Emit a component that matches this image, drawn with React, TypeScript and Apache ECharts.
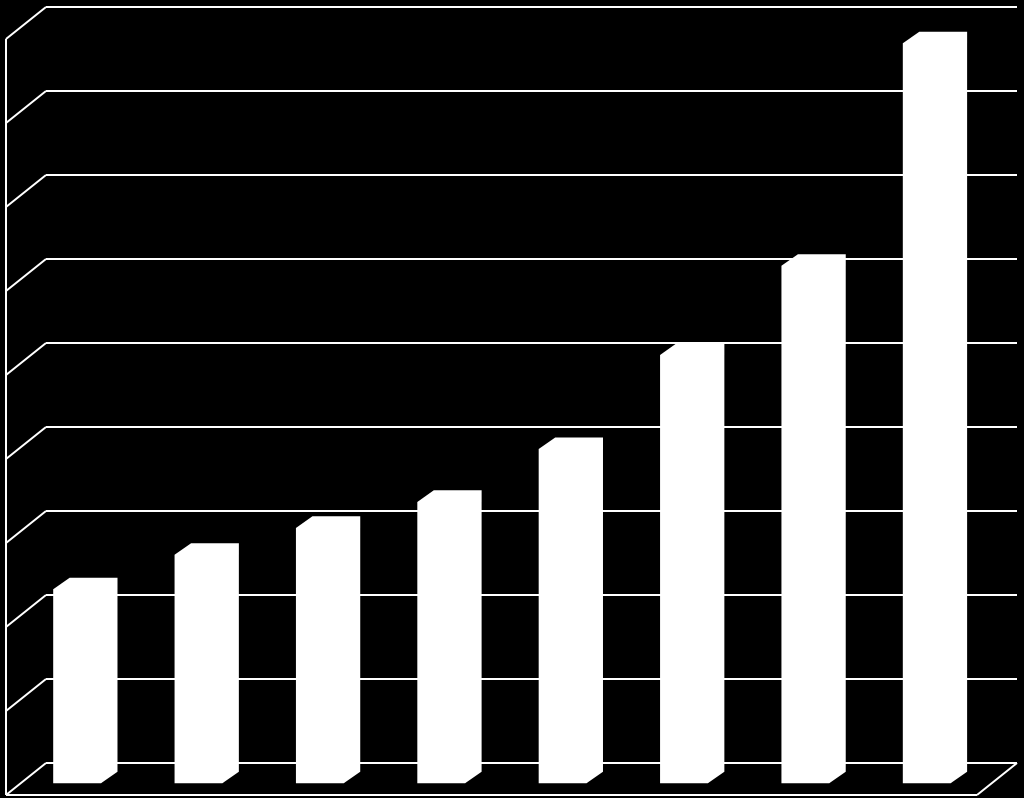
import React, { useEffect, useRef } from "react";
import * as echarts from "echarts";

const categories = ["1", "2", "3", "4", "5", "6", "7", "8"];
const values = [2.31, 2.72, 3.04, 3.35, 3.98, 5.1, 6.16, 8.81];
const yTicks = [0, 1, 2, 3, 4, 5, 6, 7, 8, 9];

export default function App() {
  const ref = useRef<HTMLDivElement>(null);
  useEffect(() => {
    document.body.style.margin = "0";
    document.body.style.background = "#000";
    const chart = echarts.init(ref.current!, null, { renderer: "svg" });
    const DX = 40, DY = 32;
    const barBackDY = 8.7, barFrontDY = 20.3, chamferX = 16.5, chamferY = 11.6, barW = 64.3, barShift = -53.5;
    const lineStyle = { stroke: "#fff", lineWidth: 2 };
    const mkLine = (x1: number, y1: number, x2: number, y2: number) => ({
      type: "line",
      shape: { x1, y1, x2, y2 },
      style: lineStyle,
    });
    chart.setOption({
      animation: false,
      backgroundColor: "#000",
      grid: { left: 46, top: 7, width: 971, height: 756, show: false },
      xAxis: { type: "category", data: categories, show: false },
      yAxis: {
        type: "value",
        min: 0,
        max: 9,
        interval: 1,
        axisLabel: { show: false },
        axisLine: { show: false },
        axisTick: { show: false },
        splitLine: { lineStyle: { color: "#fff", width: 2 } },
      },
      series: [
        {
          type: "custom",
          silent: true,
          z: 1,
          encode: { x: 0, y: 1 },
          data: yTicks.map((t) => [categories[0], t]),
          renderItem: (params: any, api: any) => {
            const v = api.value(1);
            const cs = params.coordSys;
            const y = api.coord([0, v])[1];
            const y0 = api.coord([0, 0])[1];
            const x0 = cs.x;
            const children: any[] = [mkLine(x0, y, x0 - DX, y + DY)];
            if (v === 0) {
              children.push(mkLine(x0 - DX, y + DY, x0 + cs.width - DX, y + DY));
              children.push(mkLine(x0 + cs.width - DX, y + DY, x0 + cs.width, y));
            }
            if (v === yTicks[yTicks.length - 1]) {
              children.push(mkLine(x0 - DX, y + DY, x0 - DX, y0 + DY));
            }
            return { type: "group", children };
          },
        },
        {
          type: "custom",
          silent: true,
          z: 2,
          encode: { x: 0, y: 1 },
          data: values.map((v, i) => [categories[i], v]),
          renderItem: (params: any, api: any) => {
            const [cx, yv] = api.coord([api.value(0), api.value(1)]);
            const y0 = api.coord([api.value(0), 0])[1];
            const L = cx + barShift;
            const R = L + barW;
            const Tb = yv + barBackDY;
            const Tf = Tb + chamferY;
            const Bf = y0 + barFrontDY;
            const Bb = Bf - chamferY;
            return {
              type: "polygon",
              shape: {
                points: [
                  [L, Bf],
                  [L, Tf],
                  [L + chamferX, Tb],
                  [R, Tb],
                  [R, Bb],
                  [R - chamferX, Bf],
                ],
              },
              style: { fill: "#fff", stroke: "none" },
            };
          },
        },
      ],
    });
    return () => chart.dispose();
  }, []);
  return (
    <div
      ref={ref}
      style={{ position: "fixed", left: 0, top: 0, width: 1024, height: 798, background: "#000" }}
    />
  );
}
